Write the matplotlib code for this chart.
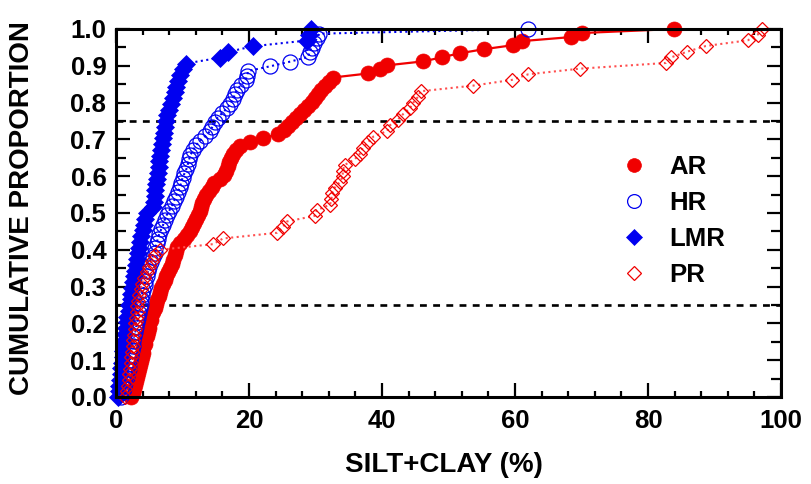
import numpy as np
import matplotlib
matplotlib.use("Agg")
import matplotlib.pyplot as plt
from matplotlib.lines import Line2D
from matplotlib.ticker import MultipleLocator, FormatStrFormatter

plt.rcParams['font.family'] = ['Liberation Sans', 'DejaVu Sans']
plt.rcParams['font.weight'] = 'bold'

# Silt+clay content (%) of each sample, sorted, per reach type
ar = [2.3, 2.5, 2.7, 2.9, 3.0, 3.1, 3.3, 3.4, 3.6, 3.7,
      3.9, 4.0, 4.1, 4.3, 4.4, 4.6, 4.8, 4.9, 5.0, 5.2,
      5.3, 5.6, 5.8, 6.0, 6.2, 6.4, 6.6, 6.8, 7.0, 7.3,
      7.5, 7.8, 8.1, 8.4, 8.6, 8.8, 9.0, 9.2, 9.6, 10.2,
      10.7, 11.1, 11.5, 11.8, 12.1, 12.3, 12.6, 12.8, 13.0, 13.2,
      13.6, 14.0, 14.4, 14.8, 15.6, 16.2, 16.6, 16.8, 17.0, 17.3,
      17.6, 18.0, 18.7, 20.2, 22.1, 24.4, 25.2, 25.8, 26.4, 27.0,
      27.7, 28.3, 28.9, 29.4, 29.9, 30.4, 30.9, 31.5, 32.0, 32.6,
      37.9, 39.7, 40.7, 46.2, 49.0, 51.7, 55.3, 59.7, 61.0, 68.4,
      70.0, 83.9]

hr = [0.8, 1.0, 1.2, 1.4, 1.6, 1.7, 1.9, 2.0, 2.1, 2.2,
      2.4, 2.5, 2.6, 2.7, 2.9, 3.0, 3.1, 3.3, 3.4, 3.6,
      3.7, 3.8, 3.9, 4.1, 4.3, 4.4, 4.6, 4.8, 5.0, 5.2,
      5.5, 5.8, 5.9, 6.1, 6.3, 6.5, 6.8, 7.1, 7.3, 7.6,
      8.0, 8.4, 8.7, 9.0, 9.3, 9.6, 9.8, 10.0, 10.3, 10.6,
      10.8, 11.0, 11.2, 11.6, 12.0, 12.6, 13.4, 14.1, 14.5, 14.9,
      15.3, 16.0, 16.7, 17.2, 17.6, 17.9, 18.2, 18.8, 19.5, 19.7,
      19.9, 23.2, 26.2, 28.9, 29.1, 29.4, 29.8, 30.2, 30.6, 62.0]

lmr = [0.3, 0.4, 0.5, 0.6, 0.7, 0.8, 0.9, 1.0, 1.1, 1.2,
       1.3, 1.4, 1.5, 1.6, 1.7, 1.9, 2.0, 2.2, 2.3, 2.4,
       2.5, 2.7, 2.8, 3.0, 3.1, 3.3, 3.5, 3.6, 3.8, 4.0,
       4.2, 4.4, 4.6, 5.6, 5.7, 5.8, 5.9, 6.0, 6.2, 6.3,
       6.4, 6.5, 6.6, 6.8, 6.9, 7.0, 7.2, 7.3, 7.5, 7.7,
       8.0, 8.3, 8.6, 8.8, 9.0, 9.3, 9.6, 10.0, 10.5, 15.6,
       16.8, 20.6, 28.7, 29.0, 29.3]

pr = [1.4, 1.6, 1.8, 1.9, 2.0, 2.1, 2.2, 2.3, 2.4, 2.5,
      2.6, 2.7, 2.8, 2.9, 3.0, 3.1, 3.2, 3.3, 3.5, 3.7,
      3.9, 4.2, 4.6, 5.0, 5.4, 5.9, 6.6, 14.6, 16.1, 24.2,
      25.1, 25.7, 29.9, 30.2, 32.2, 32.4, 32.5, 32.9, 33.7, 34.1,
      34.1, 34.4, 35.9, 36.7, 37.1, 37.9, 38.7, 40.8, 41.2, 42.4,
      43.2, 44.2, 44.7, 45.4, 45.8, 53.7, 59.5, 62.0, 69.8, 82.7,
      83.5, 85.9, 88.7, 95.0, 96.5, 97.1]

labels = ["AR", "HR", "LMR", "PR"]
quartiles = [0.25, 0.75]

RED = "#f00000"
BLUE = "#0000f0"


def cumulative(values):
    x = np.sort(np.asarray(values, dtype=float))
    p = np.arange(len(x)) / (len(x) - 1)
    return x, p


fig = plt.figure(figsize=(8.11, 4.84), dpi=100)
ax = fig.add_axes([116 / 811, 1 - 397 / 484, 665 / 811, 368 / 484])

for q in quartiles:
    ax.axhline(q, color="black", lw=1.9, linestyle=(0, (2.6, 2.4)), zorder=1)

styles = [
    dict(color=RED, linestyle="-", lw=1.6, marker="o", ms=10.8,
         mfc=RED, mec=RED, mew=0.5),
    dict(color=BLUE, linestyle=":", lw=1.5, marker="o", ms=10.8,
         mfc="none", mec=BLUE, mew=0.9),
    dict(color=BLUE, linestyle=":", lw=1.5, marker="D", ms=9.0,
         mfc=BLUE, mec=BLUE, mew=0.5),
    dict(color="#ff5050", linestyle=":", lw=1.5, marker="D", ms=7.6,
         mfc="none", mec=RED, mew=0.9),
]

for vals, st in zip([ar, hr, lmr, pr], styles):
    x, p = cumulative(vals)
    ax.plot(x, p, clip_on=False, zorder=3, **st)

ax.set_xlim(0, 100)
ax.set_ylim(0, 1.0)
ax.xaxis.set_major_locator(MultipleLocator(20))
ax.xaxis.set_minor_locator(MultipleLocator(4))
ax.yaxis.set_major_locator(MultipleLocator(0.1))
ax.yaxis.set_minor_locator(MultipleLocator(0.05))
ax.yaxis.set_major_formatter(FormatStrFormatter("%.1f"))

for s in ax.spines.values():
    s.set_linewidth(2.2)
    s.set_zorder(5)

ax.tick_params(which="both", direction="in", top=True, right=True,
               width=1.6, labelsize=18.5)
ax.tick_params(axis="x", which="major", length=10, pad=9)
ax.tick_params(axis="x", which="minor", length=4.5)
ax.tick_params(axis="y", which="major", length=10, pad=7)
ax.tick_params(axis="y", which="minor", length=7)
for lab in ax.get_xticklabels() + ax.get_yticklabels():
    lab.set_fontweight("bold")

fig.text(22 / 811, 1 - 208 / 484, "CUMULATIVE PROPORTION", rotation=90,
         ha="center", va="center", fontsize=20, fontweight="bold")
fig.text(444 / 811, 1 - 465 / 484, "SILT+CLAY (%)",
         ha="center", va="center", fontsize=20, fontweight="bold")

handles = []
for lab, st in zip(labels, styles):
    handles.append(Line2D([], [], linestyle="none", marker=st["marker"],
                          ms=st["ms"] * 0.92, mfc=st["mfc"], mec=st["mec"],
                          mew=st["mew"]))
leg = ax.legend(handles, labels, loc="upper left",
                bbox_to_anchor=(0.759, 0.657), frameon=False,
                borderpad=0, borderaxespad=0, handlelength=1.0,
                handletextpad=0.9, labelspacing=0.46, numpoints=1,
                prop=dict(size=18.5, weight="bold"))

fig.savefig("out.png", dpi=100)
